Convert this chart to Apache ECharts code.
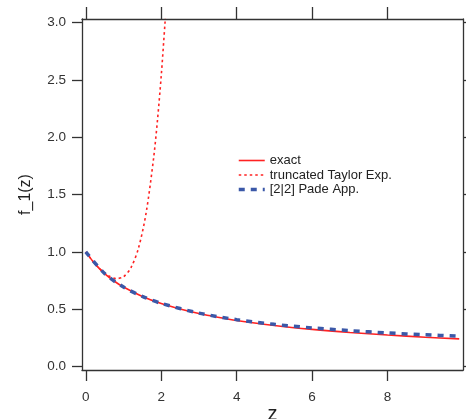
<!DOCTYPE html>
<html>
<head>
<meta charset="utf-8">
<script src="https://cdn.jsdelivr.net/npm/echarts@6/dist/echarts.min.js"></script>
<style>
html,body{margin:0;padding:0;background:#fff;}
#chart{width:466px;height:419px;}
</style>
</head>
<body>
<div id="chart"></div>
<script>
// Data
var xTickValues = [0, 2, 4, 6, 8];
var yTickValues = [0, 0.5, 1.0, 1.5, 2.0, 2.5, 3.0];

var exactZ = [0, 0.25, 0.5, 0.75, 1, 1.5, 2, 2.5, 3, 3.5, 4, 5, 6, 7, 8, 9, 9.9];
var exactF = [1.0, 0.893, 0.811, 0.746, 0.693, 0.611, 0.549, 0.501, 0.462, 0.430, 0.402, 0.358, 0.324, 0.297, 0.275, 0.256, 0.241];

var taylorZ = [0, 0.2, 0.4, 0.6, 0.8, 1.0, 1.2, 1.4, 1.6, 1.8, 1.9, 2.0, 2.1, 2.12];
var taylorF = [1.0, 0.912, 0.843, 0.792, 0.767, 0.783, 0.863, 1.036, 1.340, 1.822, 2.145, 2.533, 2.994, 3.096];

var padeZ = [0, 0.5, 1, 1.5, 2, 3, 4, 5, 6, 7, 8, 9, 9.9];
var padeF = [1.0, 0.811, 0.693, 0.612, 0.551, 0.466, 0.409, 0.368, 0.337, 0.313, 0.293, 0.277, 0.265];

function pairs(xs, ys) { return xs.map(function (x, i) { return [x, ys[i]]; }); }

var axisColor = '#333';
var chart = echarts.init(document.getElementById('chart'), null, {renderer: 'canvas'});
var labelFont = {fontFamily: 'Liberation Sans, Arial, sans-serif', fontSize: 13.5, color: '#333'};

chart.setOption({
  animation: false,
  backgroundColor: '#fff',
  grid: {left: 82, top: 19, right: 3, bottom: 49, containLabel: false, outerBoundsMode: 'none'},
  legend: {
    orient: 'vertical',
    left: 237, top: 154, padding: 0,
    itemWidth: 26, itemHeight: 14, itemGap: 1.5,
    itemStyle: {opacity: 0},
    textStyle: {fontFamily: 'Liberation Sans, Arial, sans-serif', fontSize: 13, color: '#222'},
    data: [
      {name: 'exact', lineStyle: {width: 1.6}},
      {name: 'truncated Taylor Exp.', lineStyle: {width: 1.6}},
      {name: '[2|2] Pade App.', lineStyle: {width: 3.5}}
    ]
  },
  xAxis: [
    {
      type: 'value', position: 'bottom', min: -0.1, max: 10,
      name: 'z', nameLocation: 'middle', nameGap: 34, nameMoveOverlap: false,
      nameTextStyle: {fontFamily: 'Liberation Sans, Arial, sans-serif', fontSize: 20, color: '#222'},
      axisLine: {show: true, onZero: false, lineStyle: {color: axisColor, width: 1.3}},
      axisTick: {show: true, inside: false, length: 11, customValues: xTickValues, lineStyle: {color: axisColor, width: 1.3}},
      axisLabel: Object.assign({show: true, margin: 20, customValues: xTickValues}, labelFont),
      splitLine: {show: false}
    },
    {
      type: 'value', position: 'top', min: -0.1, max: 10,
      axisLine: {show: true, onZero: false, lineStyle: {color: axisColor, width: 1.3}},
      axisTick: {show: true, inside: false, length: 12, customValues: xTickValues, lineStyle: {color: axisColor, width: 1.3}},
      axisLabel: {show: false},
      splitLine: {show: false}
    }
  ],
  yAxis: [
    {
      type: 'value', position: 'left', min: -0.03, max: 3.03,
      name: 'f_1(z)', nameLocation: 'middle', nameGap: 48, nameRotate: 90, nameMoveOverlap: false,
      nameTextStyle: {fontFamily: 'Liberation Sans, Arial, sans-serif', fontSize: 16, color: '#222'},
      axisLine: {show: true, onZero: false, lineStyle: {color: axisColor, width: 1.3}},
      axisTick: {show: true, inside: false, length: 10, customValues: yTickValues, lineStyle: {color: axisColor, width: 1.3}},
      axisLabel: Object.assign({show: true, margin: 16, customValues: yTickValues,
        formatter: function (v) { return v.toFixed(1); }}, labelFont),
      splitLine: {show: false}
    },
    {
      type: 'value', position: 'right', min: -0.03, max: 3.03,
      axisLine: {show: true, onZero: false, lineStyle: {color: axisColor, width: 1.3}},
      axisTick: {show: true, inside: false, length: 10, customValues: yTickValues, lineStyle: {color: axisColor, width: 1.3}},
      axisLabel: {show: false},
      splitLine: {show: false}
    }
  ],
  series: [
    {
      name: 'exact', type: 'line', xAxisIndex: 0, yAxisIndex: 0,
      data: pairs(exactZ, exactF), smooth: 0.3, symbol: 'none', clip: true,
      lineStyle: {color: '#f22', width: 1.6, type: 'solid'},
      itemStyle: {color: '#f22'}
    },
    {
      name: 'truncated Taylor Exp.', type: 'line', xAxisIndex: 0, yAxisIndex: 0,
      data: pairs(taylorZ, taylorF), smooth: 0.3, symbol: 'none', clip: true,
      lineStyle: {color: '#f22', width: 1.6, type: [2.5, 3]},
      itemStyle: {color: '#f22'}
    },
    {
      name: '[2|2] Pade App.', type: 'line', xAxisIndex: 0, yAxisIndex: 0,
      data: pairs(padeZ, padeF), smooth: 0.3, symbol: 'none', clip: true,
      lineStyle: {color: '#3b58a8', width: 3.5, type: [6, 6]},
      itemStyle: {color: '#3b58a8'}
    }
  ]
});
</script>
</body>
</html>
